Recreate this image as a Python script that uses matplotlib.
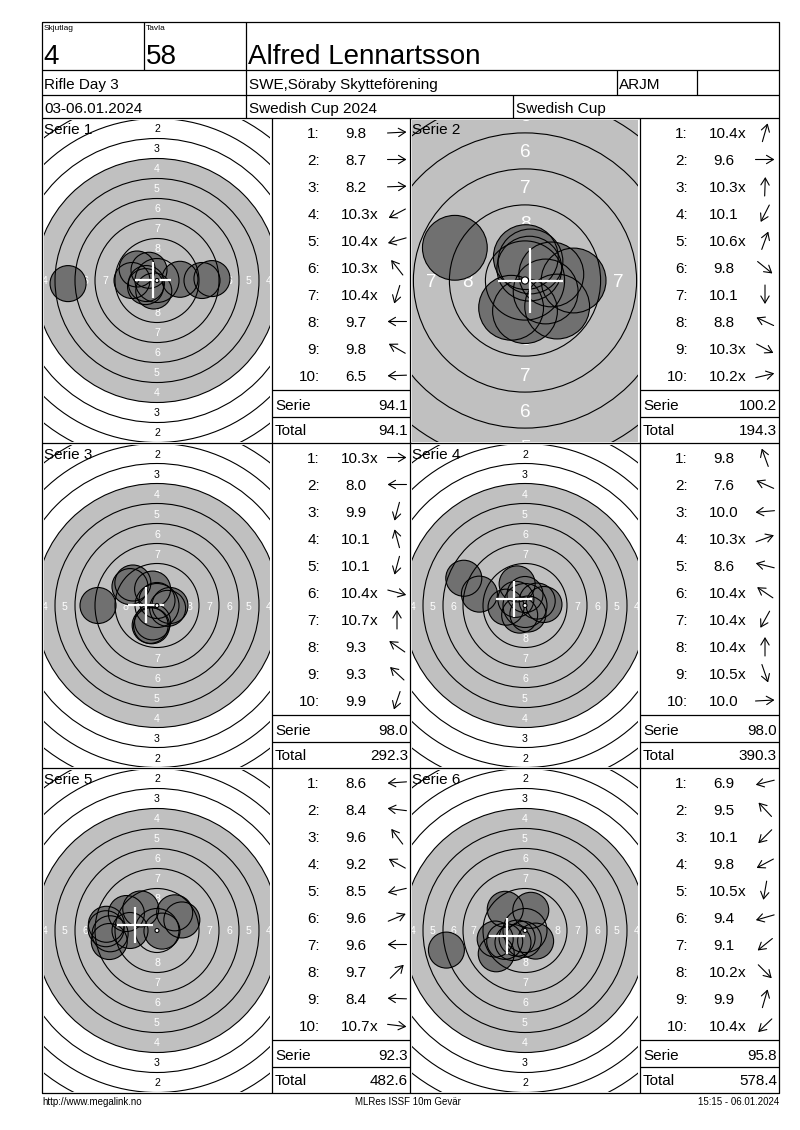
import matplotlib
matplotlib.use("Agg")
import matplotlib.pyplot as plt
from matplotlib.patches import Circle, FancyArrowPatch
import numpy as np

plt.rcParams['font.family'] = ['Liberation Sans', 'DejaVu Sans']

# header of the card
RELAY = "4"
TARGET_NO = "58"
SHOOTER = "Alfred Lennartsson"
EVENT = "Rifle Day 3"
CLUB = "SWE,Söraby Skytteförening"
SHOOTER_CLASS = "ARJM"
DATES = "03-06.01.2024"
COMPETITION = "Swedish Cup 2024"
CUP = "Swedish Cup"
FOOT_LEFT = "http://www.megalink.no"
FOOT_MID = "MLRes ISSF 10m Gevär"
FOOT_RIGHT = "15:15 - 06.01.2024"

# shot values as printed, x = inner ten
SERIE_1 = ["9.8", "8.7", "8.2", "10.3x", "10.4x", "10.3x", "10.4x", "9.7", "9.8", "6.5"]
SERIE_2 = ["10.4x", "9.6", "10.3x", "10.1", "10.6x", "9.8", "10.1", "8.8", "10.3x", "10.2x"]
SERIE_3 = ["10.3x", "8.0", "9.9", "10.1", "10.1", "10.4x", "10.7x", "9.3", "9.3", "9.9"]
SERIE_4 = ["9.8", "7.6", "10.0", "10.3x", "8.6", "10.4x", "10.4x", "10.4x", "10.5x", "10.0"]
SERIE_5 = ["8.6", "8.4", "9.6", "9.2", "8.5", "9.6", "9.6", "9.7", "8.4", "10.7x"]
SERIE_6 = ["6.9", "9.5", "10.1", "9.8", "10.5x", "9.4", "9.1", "10.2x", "9.9", "10.4x"]

# direction of each shot from centre, degrees (0 = right, 90 = up)
DIR_1 = [3, 0, 2, 208, 196, 128, 253, 180, 150, 182]
DIR_2 = [74, 0, 88, 243, 70, 321, 270, 155, 332, 13]
DIR_3 = [0, 180, 255, 105, 255, 345, 90, 145, 137, 251]
DIR_4 = [110, 156, 185, 20, 166, 146, 241, 90, 289, 3]
DIR_5 = [184, 173, 127, 151, 193, 23, 180, 45, 178, 353]
DIR_6 = [194, 133, 225, 208, 260, 196, 219, 315, 74, 224]

SERIES = [SERIE_1, SERIE_2, SERIE_3, SERIE_4, SERIE_5, SERIE_6]
DIRS = [DIR_1, DIR_2, DIR_3, DIR_4, DIR_5, DIR_6]
ZOOM = [8.0, 14.4, 8.0, 8.0, 8.0, 8.0]  # pixels per mm on each target view

W, H = 800, 1130
fig = plt.figure(figsize=(W / 100, H / 100), dpi=100)
form = fig.add_axes([0, 0, 1, 1], zorder=5)
form.set_xlim(0, W)
form.set_ylim(H, 0)
form.axis('off')
form.patch.set_alpha(0)

RING = {n: 0.25 + (10 - n) * 2.5 for n in range(1, 11)}
PELLET = 2.25


def line(x, y):
    form.plot(x, y, color='black', lw=0.9, solid_capstyle='butt')


def value(s):
    return float(s.rstrip('x'))


def target(k, x0, y0, w=230, h=325):
    s = ZOOM[k]
    ix0, iy0, iw, ih = x0 + 2, y0 + 2, w - 4, h - 3
    ax = fig.add_axes([ix0 / W, 1 - (iy0 + ih) / H, iw / W, ih / H], zorder=1)
    cx, cy = x0 + w / 2, y0 + h / 2
    xl = ((ix0 - cx) / s, (ix0 + iw - cx) / s)
    yl = ((cy - (iy0 + ih)) / s, (cy - iy0) / s)
    ax.set_xlim(xl)
    ax.set_ylim(yl)
    ax.axis('off')

    ax.add_patch(Circle((0, 0), RING[4], fc='#c0c0c0', ec='none', zorder=1))
    m = 0.6
    for n in range(1, 9):
        r = (RING[n] + RING[n + 1]) / 2
        col = 'black' if n < 4 else 'white'
        for px, py in [(0, r), (0, -r), (r, 0), (-r, 0)]:
            if not (xl[0] - m < px < xl[1] + m and yl[0] - m < py < yl[1] + m):
                continue
            ax.text(px, py, str(n), color=col, fontsize=0.95 * s, ha='center',
                    va='center_baseline', zorder=2, clip_on=True)

    vals = np.array([value(v) for v in SERIES[k]])
    ang = np.radians(DIRS[k])
    d = (10.95 - vals) * 2.5
    xs, ys = d * np.cos(ang), d * np.sin(ang)
    for x, y in zip(xs, ys):
        ax.add_patch(Circle((x, y), PELLET, fc='#707070', ec='none', zorder=3))
    for n in range(1, 10):
        ax.add_patch(Circle((0, 0), RING[n], fill=False, ec='black', lw=0.8, zorder=4))
    for x, y in zip(xs, ys):
        ax.add_patch(Circle((x, y), PELLET, fill=False, ec='black', lw=0.8, zorder=4))

    mx, my = xs.mean(), ys.mean()
    ax.plot([mx - PELLET, mx + PELLET], [my, my], color='white', lw=1.6, zorder=5,
            solid_capstyle='butt')
    ax.plot([mx, mx], [my - PELLET, my + PELLET], color='white', lw=1.6, zorder=5,
            solid_capstyle='butt')
    ax.add_patch(Circle((0, 0), RING[10], fc='white', ec='black', lw=0.8, zorder=6))

    form.text(x0 + 2, y0 + 16, "Serie %d" % (k + 1), fontsize=11, ha='left', va='baseline')


def scores(k, x0, y0, w, total):
    vals = SERIES[k]
    for i, sv in enumerate(vals):
        yb = y0 + 20 + 27 * i
        form.text(x0 + 48, yb, "%d:" % (i + 1), fontsize=11, ha='right', va='baseline')
        form.text(x0 + 84, yb, sv.rstrip('x'), fontsize=11, ha='center', va='baseline')
        if sv.endswith('x'):
            form.text(x0 + 98, yb, 'x', fontsize=11, ha='left', va='baseline')
        a = np.radians(DIRS[k][i])
        dx, dy = 9.5 * np.cos(a), -9.5 * np.sin(a)
        cxa, cya = x0 + 125, yb - 5.5
        form.add_patch(FancyArrowPatch((cxa - dx, cya - dy), (cxa + dx, cya + dy),
                                       arrowstyle='->,head_length=0.5,head_width=0.3',
                                       mutation_scale=10, lw=0.8, color='black',
                                       shrinkA=0, shrinkB=0))
    serie = sum(value(v) for v in vals)
    line([x0, x0 + w], [y0 + 271.7] * 2)
    line([x0, x0 + w], [y0 + 299] * 2)
    form.text(x0 + 3, y0 + 291.7, "Serie", fontsize=11, ha='left', va='baseline')
    form.text(x0 + w - 2, y0 + 291.7, "%.1f" % serie, fontsize=11, ha='right', va='baseline')
    form.text(x0 + 3, y0 + 317.3, "Total", fontsize=11, ha='left', va='baseline')
    form.text(x0 + w - 2, y0 + 317.3, "%.1f" % total, fontsize=11, ha='right', va='baseline')
    return serie


# frame of the card
L, R, T, B = 42, 779, 22, 1093
line([L, R, R, L, L], [T, T, B, B, T])
for yy in [70, 95, 118, 443, 768]:
    line([L, R], [yy, yy])
line([144, 144], [T, 70])
line([246, 246], [T, 118])
line([617, 617], [70, 95])
line([697, 697], [70, 95])
line([513, 513], [95, 118])
for xx in [272, 410, 640]:
    line([xx, xx], [118, B])

form.text(44, 30, "Skjutlag", fontsize=6, va='baseline')
form.text(146, 30, "Tavla", fontsize=6, va='baseline')
form.text(43, 64, RELAY, fontsize=20, va='baseline')
form.text(146, 64, TARGET_NO, fontsize=20, va='baseline')
form.text(248, 64, SHOOTER, fontsize=20, va='baseline')
form.text(44, 89, EVENT, fontsize=11, va='baseline')
form.text(249, 89, CLUB, fontsize=11, va='baseline')
form.text(619, 89, SHOOTER_CLASS, fontsize=11, va='baseline')
form.text(44, 113, DATES, fontsize=11, va='baseline')
form.text(249, 113, COMPETITION, fontsize=11, va='baseline')
form.text(516, 113, CUP, fontsize=11, va='baseline')

running = 0.0
for r in range(3):
    y0 = 118 + 325 * r
    target(2 * r, 42, y0)
    running += sum(value(v) for v in SERIES[2 * r])
    scores(2 * r, 272, y0, 138, running)
    target(2 * r + 1, 410, y0)
    running += sum(value(v) for v in SERIES[2 * r + 1])
    scores(2 * r + 1, 640, y0, 139, running)

form.text(42, 1105, FOOT_LEFT, fontsize=7, ha='left', va='baseline')
form.text(408, 1105, FOOT_MID, fontsize=7, ha='center', va='baseline')
form.text(779, 1105, FOOT_RIGHT, fontsize=7, ha='right', va='baseline')

fig.savefig("out.png", dpi=100)
